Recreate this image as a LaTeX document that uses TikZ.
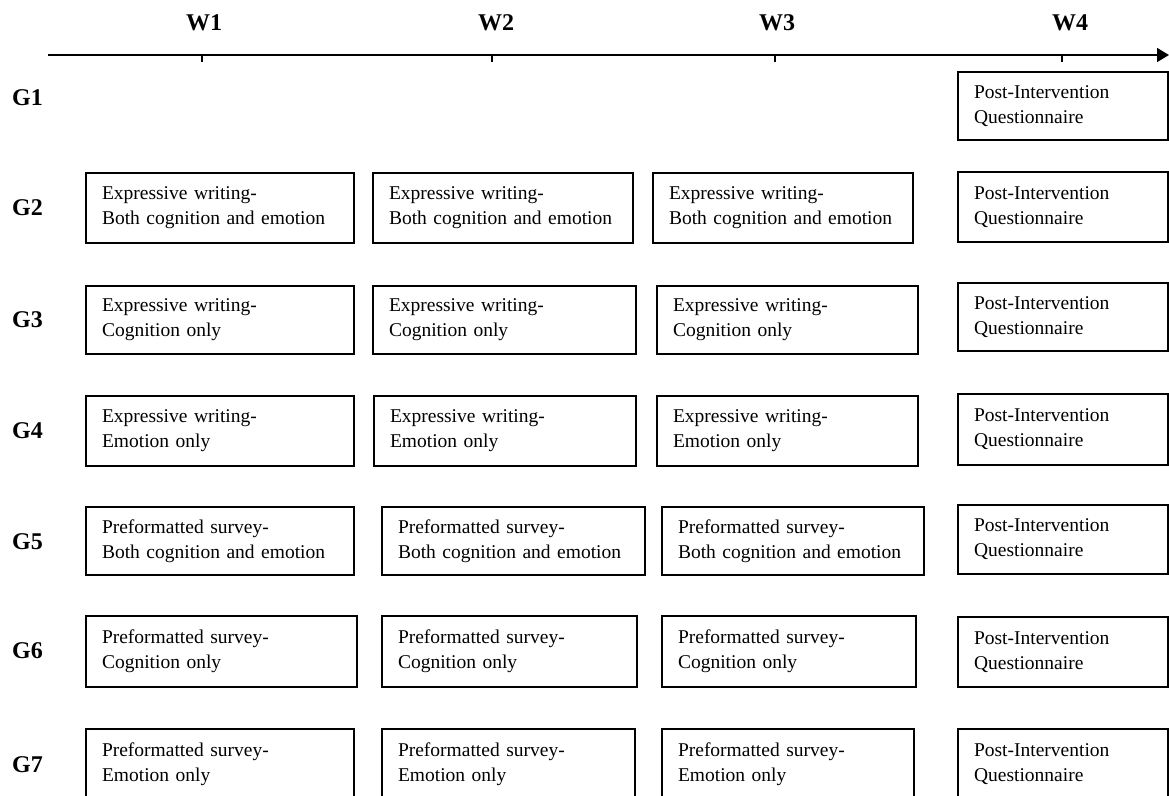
\documentclass[tikz,border=0pt]{standalone}
\usepackage{fontspec}
\setmainfont{Liberation Serif}
\usetikzlibrary{arrows.meta}
\newcommand\stagenode[6]{%
  \pgfmathsetmacro\sw{#4-#2}\pgfmathsetmacro\sh{#5-#3}\pgfmathsetmacro\stw{#4-#2-32}%
  \node[stagebox, minimum width=\sw pt, minimum height=\sh pt, text width=\stw pt] (#1) at (#2,#3) {#6};}
\begin{document}
\begin{tikzpicture}[x=1pt,y=-1pt,
  stagebox/.style={draw, line width=1.6pt, anchor=north west, align=left, inner xsep=16pt, inner ysep=0pt, outer sep=0pt, font=\fontsize{19.5}{25}\selectfont},
  lbl/.style={font=\fontsize{24}{28}\selectfont\bfseries, inner sep=0pt},
  axisline/.style={line width=1.5pt},
  tickline/.style={line width=1.3pt},
]
\useasboundingbox (0,0) rectangle (1169,795);
\clip (0,0) rectangle (1169,795);

% time axis
\coordinate (ax0) at (48,55);
\coordinate (ax1) at (1169,55);
\draw[axisline,-{Triangle[length=12pt,width=14pt]}] (ax0) -- (ax1);
\foreach \n/\x in {1/202,2/492,3/775,4/1062}{
  \coordinate (t\n a) at (\x,55);
  \coordinate (t\n b) at (\x,62);
  \draw[tickline] (t\n a) -- (t\n b);
}

% week labels
\node[lbl] (W1) at (204,23) {W1};
\node[lbl] (W2) at (496,23) {W2};
\node[lbl] (W3) at (777,23) {W3};
\node[lbl] (W4) at (1070,23) {W4};

% group labels
\node[lbl] (G1) at (27.5,97.5) {G1};
\node[lbl] (G2) at (27.5,208) {G2};
\node[lbl] (G3) at (27.5,320) {G3};
\node[lbl] (G4) at (27.5,431) {G4};
\node[lbl] (G5) at (27.5,542) {G5};
\node[lbl] (G6) at (27.5,651) {G6};
\node[lbl] (G7) at (27.5,765) {G7};

% G1
\stagenode{g1w4}{958}{72}{1168}{140}{Post-Intervention\\Questionnaire}
% G2
\stagenode{g2w1}{86}{173}{354}{243}{Expressive writing-\\Both cognition and emotion}
\stagenode{g2w2}{373}{173}{633}{243}{Expressive writing-\\Both cognition and emotion}
\stagenode{g2w3}{653}{173}{913}{243}{Expressive writing-\\Both cognition and emotion}
\stagenode{g2w4}{958}{172}{1168}{242}{Post-Intervention\\Questionnaire}
% G3
\stagenode{g3w1}{86}{286}{354}{354}{Expressive writing-\\Cognition only}
\stagenode{g3w2}{373}{286}{636}{354}{Expressive writing-\\Cognition only}
\stagenode{g3w3}{657}{286}{918}{354}{Expressive writing-\\Cognition only}
\stagenode{g3w4}{958}{283}{1168}{351}{Post-Intervention\\Questionnaire}
% G4
\stagenode{g4w1}{86}{396}{354}{466}{Expressive writing-\\Emotion only}
\stagenode{g4w2}{374}{396}{636}{466}{Expressive writing-\\Emotion only}
\stagenode{g4w3}{657}{396}{918}{466}{Expressive writing-\\Emotion only}
\stagenode{g4w4}{958}{394}{1168}{465}{Post-Intervention\\Questionnaire}
% G5
\stagenode{g5w1}{86}{507}{354}{575}{Preformatted survey-\\Both cognition and emotion}
\stagenode{g5w2}{382}{507}{645}{575}{Preformatted survey-\\Both cognition and emotion}
\stagenode{g5w3}{662}{507}{924}{575}{Preformatted survey-\\Both cognition and emotion}
\stagenode{g5w4}{958}{505}{1168}{574}{Post-Intervention\\Questionnaire}
% G6
\stagenode{g6w1}{86}{616}{357}{687}{Preformatted survey-\\Cognition only}
\stagenode{g6w2}{382}{616}{637}{687}{Preformatted survey-\\Cognition only}
\stagenode{g6w3}{662}{616}{916}{687}{Preformatted survey-\\Cognition only}
\stagenode{g6w4}{958}{617}{1168}{687}{Post-Intervention\\Questionnaire}
% G7
\stagenode{g7w1}{86}{729}{354}{800}{Preformatted survey-\\Emotion only}
\stagenode{g7w2}{382}{729}{635}{800}{Preformatted survey-\\Emotion only}
\stagenode{g7w3}{662}{729}{914}{800}{Preformatted survey-\\Emotion only}
\stagenode{g7w4}{958}{729}{1168}{800}{Post-Intervention\\Questionnaire}
\end{tikzpicture}
\end{document}
